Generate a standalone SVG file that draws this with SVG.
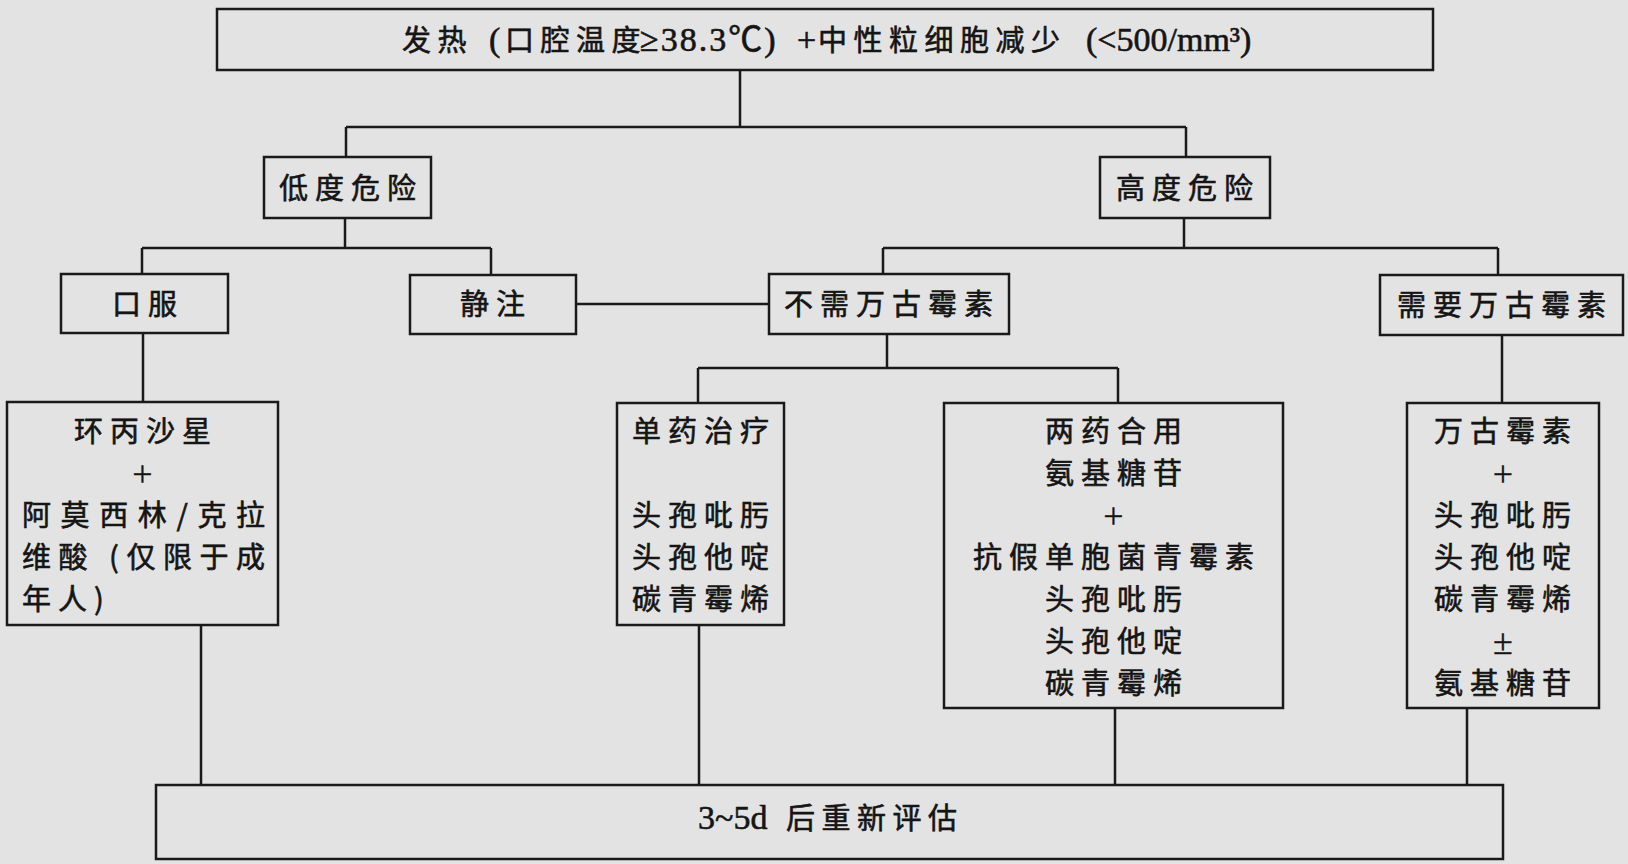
<svg xmlns="http://www.w3.org/2000/svg" width="1628" height="864" viewBox="0 0 1628 864">
<style>
.bg{fill:#e3e3e3}
.box{fill:none;stroke:#1a1a1a;stroke-width:2.5}
.ln{fill:none;stroke:#1a1a1a;stroke-width:2.5}
text{fill:#151515;stroke:#151515;stroke-width:0.6}
.t{font-family:"Noto Sans CJK SC","Liberation Sans",sans-serif;font-size:29px;letter-spacing:7px;text-anchor:middle}
.s{font-family:"Noto Sans CJK SC","Liberation Sans",sans-serif;font-size:29px;text-anchor:start}
.c{letter-spacing:6.5px}
.lat{font-family:"Liberation Serif","Noto Sans CJK SC",serif;font-size:34px;letter-spacing:0}
.p{font-family:"Liberation Serif",serif;font-size:36px;text-anchor:middle;stroke-width:0.3}
</style>
<rect class="bg" x="0" y="0" width="1628" height="864"/>
<g id="connectors">
<path class="ln" d="M740 70V127M346 127H1186M346 127V157M1186 127V157"/>
<path class="ln" d="M345 218V248M142 248H491M142 248V274M491 248V275"/>
<path class="ln" d="M1184 218V248M883 248H1498M883 248V274M1498 248V275"/>
<path class="ln" d="M576 304H769"/>
<path class="ln" d="M887 334V368M698 368H1118M698 368V403M1118 368V403"/>
<path class="ln" d="M143 333V402M1502 335V403"/>
<path class="ln" d="M201 625V785M699 625V785M1115 708V785M1467 708V785"/>
</g>
<g id="n-top">
<rect class="box" x="217" y="9" width="1216" height="61"/>
<text class="s" y="51"><tspan class="c" x="402">发热</tspan><tspan class="lat" x="489">(</tspan><tspan class="c" x="505">口腔温度</tspan><tspan class="lat" x="640" style="letter-spacing:2px">≥38.3℃)</tspan><tspan class="lat" x="797">+</tspan><tspan class="c" x="818">中性粒细胞减少</tspan><tspan class="lat" x="1086">(&lt;500/mm³)</tspan></text>
</g>
<g id="n-low">
<rect class="box" x="264" y="157" width="167" height="61"/>
<text class="t" x="351" y="199">低度危险</text>
</g>
<g id="n-high">
<rect class="box" x="1100" y="157" width="170" height="61"/>
<text class="t" x="1188" y="199">高度危险</text>
</g>
<g id="n-oral">
<rect class="box" x="61" y="274" width="167" height="59"/>
<text class="t" x="148" y="315">口服</text>
</g>
<g id="n-iv">
<rect class="box" x="410" y="275" width="166" height="59"/>
<text class="t" x="496" y="315">静注</text>
</g>
<g id="n-novanco">
<rect class="box" x="769" y="274" width="240" height="60"/>
<text class="t" x="892" y="315">不需万古霉素</text>
</g>
<g id="n-vanco">
<rect class="box" x="1380" y="275" width="243" height="60"/>
<text class="t" x="1505" y="316">需要万古霉素</text>
</g>
<g id="n-oralrx">
<rect class="box" x="7" y="402" width="271" height="223"/>
<text class="t" x="146" y="442">环丙沙星</text>
<text class="p" x="142.5" y="486">+</text>
<text class="s" x="22" y="526" textLength="243" lengthAdjust="spacing">阿莫西林/克拉</text>
<text class="s" x="22" y="568" textLength="243" lengthAdjust="spacing">维酸 (仅限于成</text>
<text class="s" x="22" y="610" style="letter-spacing:7px">年人)</text>
</g>
<g id="n-mono">
<rect class="box" x="617" y="403" width="167" height="222"/>
<text class="t" x="704" y="442">单药治疗</text>
<text class="t" x="704" y="526">头孢吡肟</text>
<text class="t" x="704" y="568">头孢他啶</text>
<text class="t" x="704" y="610">碳青霉烯</text>
</g>
<g id="n-combo">
<rect class="box" x="944" y="403" width="339" height="305"/>
<text class="t" x="1117" y="442">两药合用</text>
<text class="t" x="1117" y="484">氨基糖苷</text>
<text class="p" x="1113.5" y="528">+</text>
<text class="t" x="1117" y="568">抗假单胞菌青霉素</text>
<text class="t" x="1117" y="610">头孢吡肟</text>
<text class="t" x="1117" y="652">头孢他啶</text>
<text class="t" x="1117" y="694">碳青霉烯</text>
</g>
<g id="n-vancorx">
<rect class="box" x="1407" y="403" width="192" height="305"/>
<text class="t" x="1506" y="442">万古霉素</text>
<text class="p" x="1503" y="486">+</text>
<text class="t" x="1506" y="526">头孢吡肟</text>
<text class="t" x="1506" y="568">头孢他啶</text>
<text class="t" x="1506" y="610">碳青霉烯</text>
<text class="p" x="1503" y="654">±</text>
<text class="t" x="1506" y="694">氨基糖苷</text>
</g>
<g id="n-reeval">
<rect class="box" x="156" y="785" width="1347" height="74"/>
<text class="s" y="829"><tspan class="lat" x="698">3~5d</tspan><tspan class="c" x="786">后重新评估</tspan></text>
</g>
</svg>
